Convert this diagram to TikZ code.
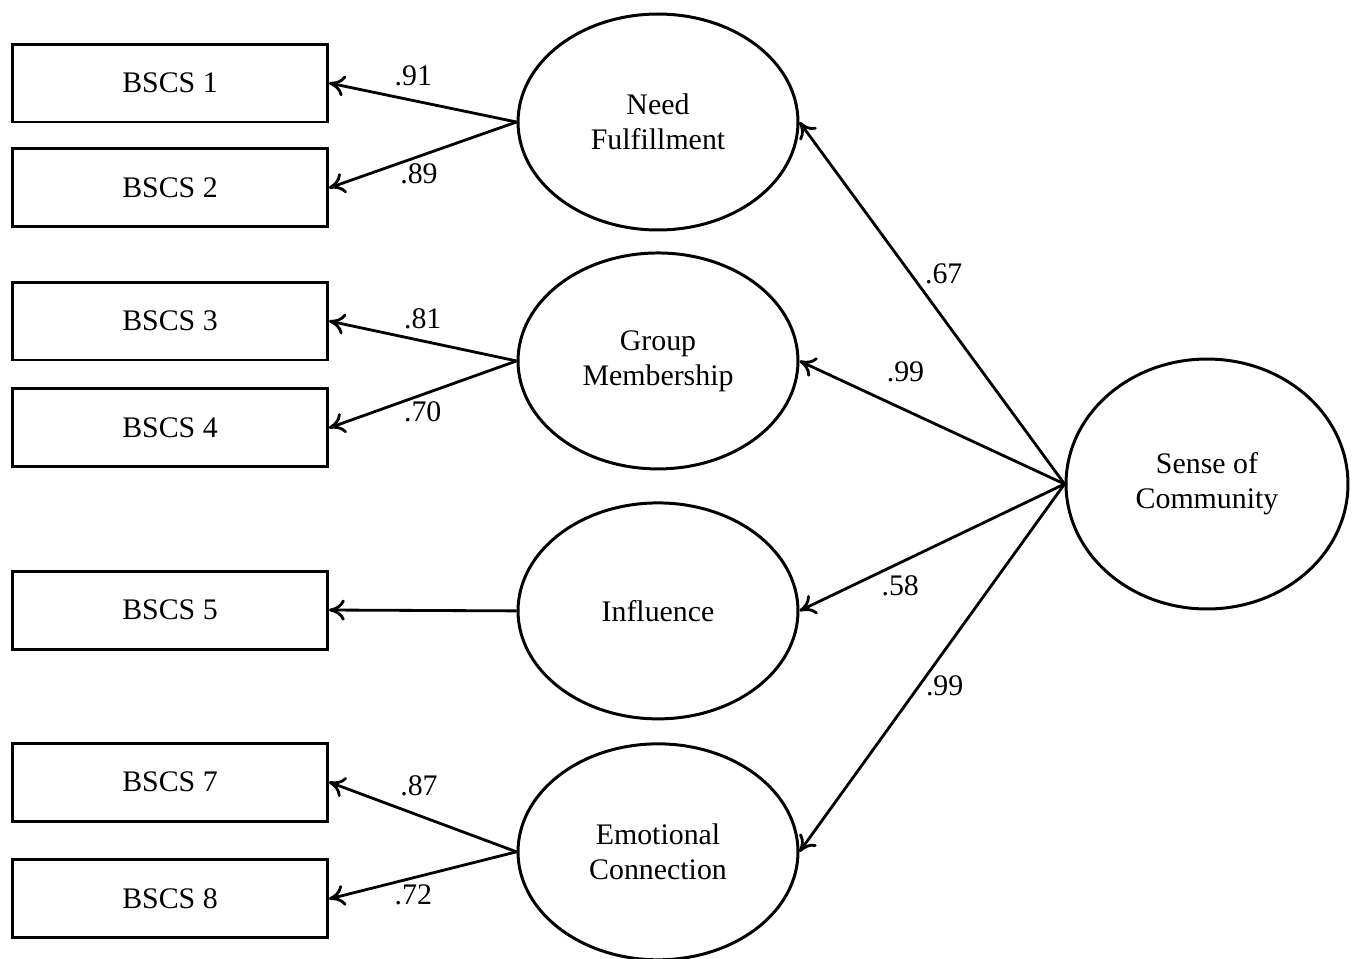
\documentclass[tikz,border=0pt]{standalone}
\usepackage{fontspec}
\setmainfont{Liberation Serif}
\usetikzlibrary{arrows.meta, shapes.geometric, positioning}

\begin{document}
\begin{tikzpicture}[x=0.02cm, y=-0.02cm,
    font=\fontsize{17}{20}\selectfont,
    indicator/.style={rectangle, draw, line width=1.7pt, minimum width=6.3cm, minimum height=1.56cm, inner sep=0pt},
    factor/.style={ellipse, draw, line width=1.7pt, minimum width=5.6cm, minimum height=4.32cm, align=center, inner sep=0pt},
    load/.style={-{To[length=9pt, width=12pt]}, line width=1.6pt}]
        \useasboundingbox (0,0) rectangle (1359,958);
        % latent factors
        \node[factor] (nf) at (658,122) {Need\\Fulfillment};
        \node[factor] (gm) [below = 0.4cm of nf] {Group\\Membership};
        \node[factor] (inf) [below = 0.62cm of gm] {Influence};
        \node[factor] (ec) [below = 0.44cm of inf] {Emotional\\Connection};
        \node[factor, minimum width=5.64cm, minimum height=5cm] (soc) at (1207,484) {Sense of\\Community};

        % indicators
        \node[indicator] (b1) at (170,83) {BSCS 1};
        \node[indicator] (b2) [below = 0.48cm of b1] {BSCS 2};
        \node[indicator] (b3) at (170,321) {BSCS 3};
        \node[indicator] (b4) [below = 0.52cm of b3] {BSCS 4};
        \node[indicator] (b5) at (170,610) {BSCS 5};
        \node[indicator] (b7) at (170,782) {BSCS 7};
        \node[indicator] (b8) [below = 0.72cm of b7] {BSCS 8};

        \path[load]  (nf.west) edge node[above=4pt, pos=0.55] {.91} (b1.east);
        \path[load]  (nf.west) edge node[below, pos=0.52] {.89} (b2.east);
        \path[load]  (gm.west) edge node[above=3pt, pos=0.5] {.81} (b3.east);
        \path[load]  (gm.west) edge node[below, pos=0.5] {.70} (b4.east);
        \path[load]  (inf.west) edge (b5.east);
        \path[load]  (ec.west) edge node[above=7pt, pos=0.52] {.87} (b7.east);
        \path[load]  (ec.west) edge node[below=0pt, pos=0.55] {.72} (b8.east);

        \path[load]  (soc.west) edge node[right=4pt, pos=0.58] {.67} (nf.east);
        \path[load]  (soc.west) edge node[above=12pt, pos=0.6] {.99} (gm.east);
        \path[load]  (soc.west) edge node[below=3pt, pos=0.62] {.58} (inf.east);
        \path[load]  (soc.west) edge node[right, pos=0.55] {.99} (ec.east);
\end{tikzpicture}
\end{document}
